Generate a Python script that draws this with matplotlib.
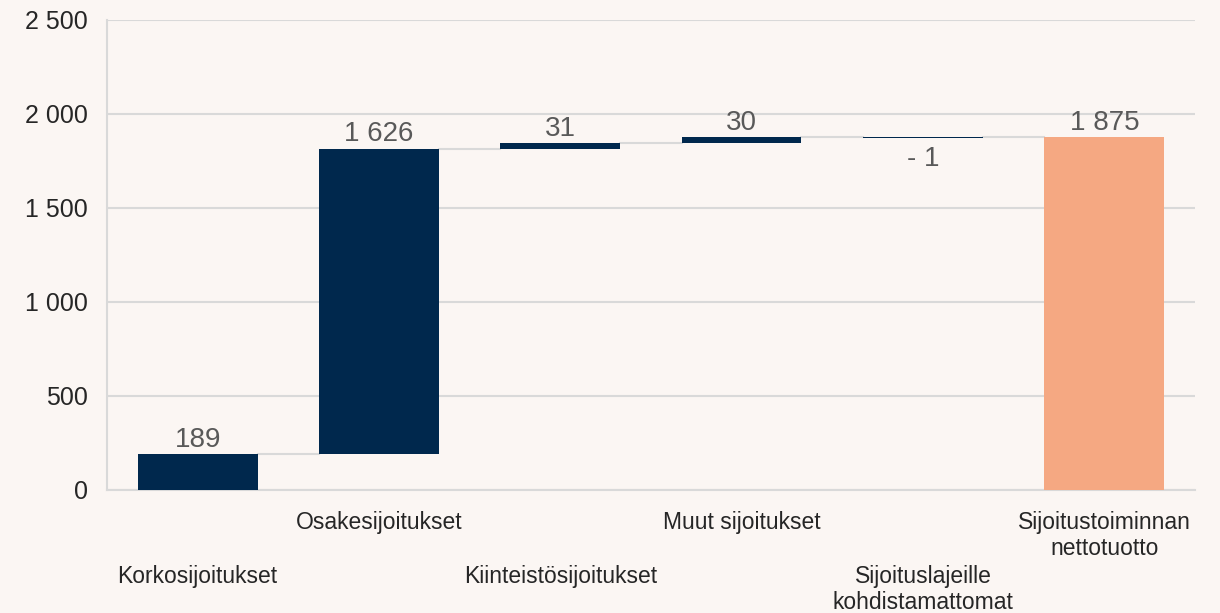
import matplotlib.pyplot as plt
import matplotlib.transforms as mtransforms
import numpy as np

categories = ["Korkosijoitukset", "Osakesijoitukset", "Kiinteistösijoitukset",
              "Muut sijoitukset", "Sijoituslajeille\nkohdistamattomat",
              "Sijoitustoiminnan\nnettotuotto"]
changes = [189, 1626, 31, 30, -1]
total = 1875
value_labels = ["189", "1 626", "31", "30", "- 1", "1 875"]
yticks = [0, 500, 1000, 1500, 2000, 2500]
ytick_labels = ["0", "500", "1 000", "1 500", "2 000", "2 500"]

bg = "#fbf6f3"
navy = "#00284d"
orange = "#f5a882"
grid_c = "#d9d9d9"

plt.rcParams["font.family"] = ["Liberation Sans", "DejaVu Sans"]

fig = plt.figure(figsize=(12.2, 6.13), dpi=100, facecolor=bg)
ax = fig.add_axes([0.0877, 0.2007, 0.8918, 0.7667], facecolor=bg)

x = np.arange(len(categories))
bar_w = 0.66
starts = np.concatenate([[0], np.cumsum(changes)[:-1]])
ends = np.cumsum(changes)

for i, (s, c) in enumerate(zip(starts, changes)):
    h = c if abs(c) > 4 else -3
    ax.bar(x[i], h, bottom=s, width=bar_w, color=navy, zorder=3)
ax.bar(x[-1], total, width=bar_w, color=orange, zorder=3)

# connectors
levels = list(ends)
for i, lv in enumerate(levels):
    ax.plot([x[i] + bar_w / 2, x[i + 1] - bar_w / 2], [lv, lv],
            color=grid_c, lw=1.5, zorder=2)

# value labels
tops = list(np.maximum(starts, ends)) + [total]
for i, lab in enumerate(value_labels):
    if i < len(changes) and changes[i] < 0:
        ax.annotate(lab, (x[i], ends[i] - 3), xytext=(0, -6), textcoords="offset points",
                    ha="center", va="top", fontsize=20, color="#595959")
    else:
        ax.annotate(lab, (x[i], tops[i]), xytext=(0, 1), textcoords="offset points",
                    ha="center", va="bottom", fontsize=20, color="#595959")

ax.set_xlim(-0.5, len(categories) - 0.5)
ax.set_ylim(0, 2500)
ax.set_yticks(yticks)
ax.set_yticklabels(ytick_labels, fontsize=18, color="#262626")
ax.set_xticks([])
ax.tick_params(axis="y", length=0, pad=14)
ax.grid(axis="y", color=grid_c, lw=1.5, zorder=0)
for side in ["top", "right"]:
    ax.spines[side].set_visible(False)
ax.spines["left"].set_color(grid_c)
ax.spines["bottom"].set_color(grid_c)
ax.spines["left"].set_linewidth(1.5)
ax.spines["bottom"].set_linewidth(1.5)

# staggered category labels
trans = mtransforms.blended_transform_factory(ax.transData, ax.transAxes)
for i, cat in enumerate(categories):
    dy = -15 if i % 2 == 1 else -54
    ax.annotate(cat, (x[i], 0), xycoords=trans, xytext=(0, dy), textcoords="offset points",
                ha="center", va="top", fontsize=16.5, color="#262626", linespacing=1.15)

fig.savefig("out.png", dpi=100, facecolor=bg)
